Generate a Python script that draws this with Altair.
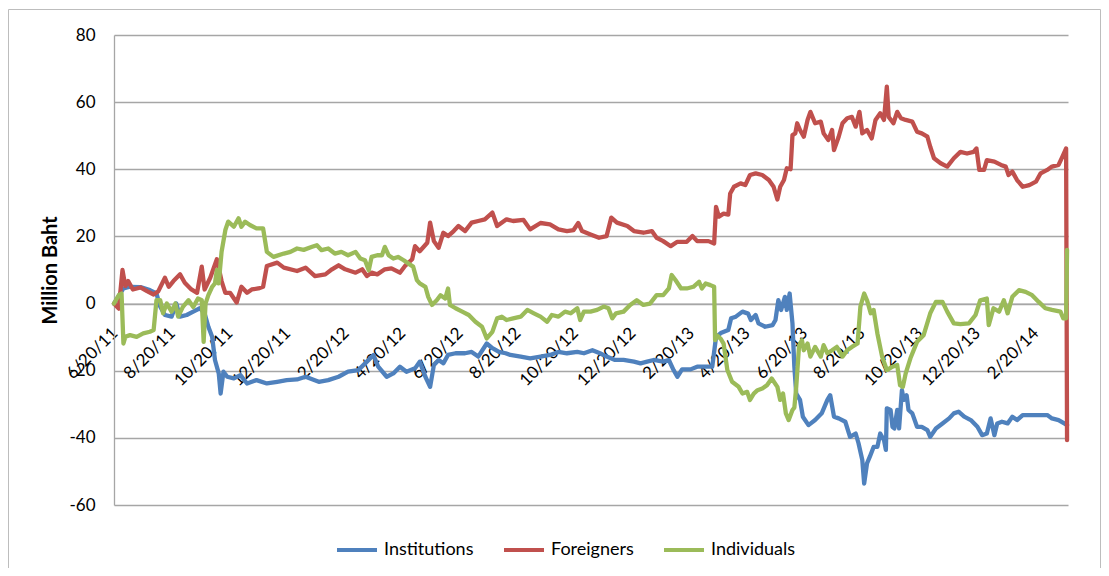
import altair as alt
import pandas as pd

START = "2011-06-20"

series_names = ["Institutions", "Foreigners", "Individuals"]
series_colors = ["#4F81BD", "#C0504D", "#9BBB59"]

y_ticks = [-60, -40, -20, 0, 20, 40, 60, 80]
x_tick_months = [(2011, 6), (2011, 8), (2011, 10), (2011, 12), (2012, 2), (2012, 4),
                 (2012, 6), (2012, 8), (2012, 10), (2012, 12), (2013, 2), (2013, 4),
                 (2013, 6), (2013, 8), (2013, 10), (2013, 12), (2014, 2)]

# days since 2011-06-20 and values (million baht)
inst_days = [0, 10, 17, 28, 38, 45, 49, 54, 61, 66, 70, 77, 84, 91, 96, 100, 104, 107, 111, 113,
             116, 120, 127, 134, 141, 151, 162, 173, 183, 194, 203, 217, 227, 238, 248, 259, 268, 275, 280, 289,
             296, 303, 310, 319, 324, 330, 335, 339, 344, 349, 354, 362, 372, 379, 386, 395, 401, 408, 415, 420,
             431, 441, 452, 462, 471, 480, 491, 498, 507, 515, 522, 531, 540, 551, 558, 565, 572, 582, 588, 593,
             597, 602, 611, 618, 627, 634, 638, 643, 651, 654, 659, 666, 672, 675, 680, 683, 690, 698, 701, 704,
             707, 711, 713, 716, 719, 721, 723, 727, 730, 736, 743, 750, 756, 759, 763, 768, 775, 780, 786, 789,
             793, 795, 798, 801, 805, 809, 812, 816, 818, 819, 823, 825, 827, 830, 832, 835, 837, 840, 842, 846,
             851, 856, 862, 865, 871, 878, 885, 890, 895, 901, 908, 915, 920, 925, 929, 933, 936, 941, 947, 952,
             957, 963, 970, 980, 989, 994, 1001, 1007, 1010]
inst_vals = [0, 4.5, 5, 4.9, 4, 3, -0.9, -3.4, -3.9, 0, -3.9, -3.4, -2.4, -1.4, -2.9, -6.9, -9.9, -16.8, -20.8, -26.8,
             -20.3, -21.8, -22.3, -21.3, -23.8, -22.8, -23.8, -23.3, -22.8, -22.6, -21.8, -23.3, -22.8, -21.8, -20.3, -19.8, -17.3, -15.3, -18.8, -21.8,
             -20.8, -18.8, -20.3, -19.3, -17.3, -21.8, -24.8, -18.3, -16.8, -17.8, -15.3, -14.8, -14.8, -14.4, -15.8, -11.9, -13.3, -14.4, -14.8, -15.3,
             -15.8, -16.3, -15.8, -15.3, -14.4, -14.8, -14.4, -14.8, -13.9, -14.8, -15.8, -16.8, -16.8, -17.3, -17.8, -17.3, -16.8, -17.3, -16.8, -19.8,
             -21.8, -19.6, -19.6, -18.8, -18.8, -18.8, -10, -8.8, -7.9, -4.4, -3.9, -2.4, -3, -4.9, -3.4, -5.9, -6.9, -6.4, -4.9, 1,
             -1.9, 2, -1.9, 3, -5.9, -18.8, -26.8, -28.7, -33.7, -36.2, -34.7, -32.7, -28.7, -27.3, -33.7, -34.2, -35.2, -39.7, -38.7, -41.6,
             -46.6, -53.6, -47.6, -45.6, -42.7, -42.7, -38.7, -40.7, -43.6, -31.2, -31.7, -36.7, -37.2, -31.7, -37.2, -25.8, -28.7, -27.3, -31.7, -32.7,
             -36.7, -36.7, -37.7, -39.7, -37.2, -35.7, -34.2, -32.7, -32.2, -33.7, -34.7, -36.7, -39.2, -38.7, -34.2, -39.2, -35.7, -35.2, -35.7, -33.7,
             -34.7, -33.2, -33.2, -33.2, -33.2, -34.2, -34.7, -35.7, -36.2]

forn_days = [0, 5, 9, 12, 15, 20, 28, 35, 42, 47, 54, 58, 63, 70, 75, 82, 88, 93, 96, 102,
             109, 114, 118, 123, 130, 135, 141, 146, 153, 158, 162, 173, 180, 194, 203, 213, 224, 231, 238, 245,
             256, 263, 268, 273, 279, 287, 294, 303, 309, 316, 319, 324, 332, 335, 339, 344, 349, 354, 360, 365,
             372, 379, 386, 393, 401, 406, 416, 423, 434, 441, 452, 462, 471, 480, 487, 492, 496, 505, 514, 522,
             527, 533, 544, 551, 561, 570, 575, 582, 590, 597, 607, 613, 618, 623, 630, 636, 638, 641, 646, 651,
             653, 657, 664, 669, 674, 680, 687, 694, 699, 703, 706, 710, 713, 717, 719, 722, 724, 727, 731, 735,
             738, 743, 749, 752, 757, 761, 763, 768, 772, 777, 782, 786, 790, 793, 798, 803, 807, 812, 816, 819,
             821, 826, 830, 834, 839, 846, 851, 856, 862, 865, 869, 876, 883, 890, 897, 904, 911, 914, 917, 922,
             925, 933, 940, 945, 948, 952, 957, 963, 970, 977, 982, 989, 994, 1001, 1005, 1009, 1010]
forn_vals = [0, -1.5, 10, 5.2, 6.7, 4.2, 4.8, 3.7, 2.7, 3.7, 7.7, 5, 6.7, 8.7, 6.2, 4.2, 3.2, 11, 4.2, 7.7,
             13.2, 6.7, 3.2, 3.2, 0.3, 5, 3.2, 4.2, 4.5, 5, 11.2, 12.2, 10.7, 9.7, 10.7, 8.2, 8.7, 10.2, 11.4, 10.2,
             9.2, 10.2, 8.2, 9.2, 8.7, 10.2, 10.5, 9.2, 11.4, 13.2, 17.1, 15.6, 18.1, 24.1, 18.6, 16.6, 21.1, 20.1, 21.6, 23.1,
             21.6, 24.1, 24.6, 25.1, 27.1, 23.1, 25.1, 24.6, 24.9, 22.1, 24, 23.6, 22.1, 21.6, 21.9, 24, 21.6, 20.6, 19.6, 20.1,
             25.6, 24.1, 23.1, 21.6, 21.1, 21.6, 19.6, 18.6, 17.1, 18.4, 18.4, 20.1, 18.6, 18.6, 18.6, 17.9, 28.8, 25.9, 26.8, 26.5,
             32.8, 34.8, 35.8, 35.3, 38.3, 38.8, 38.3, 36.8, 34.8, 31, 34.8, 36.8, 40.3, 40, 50.2, 50.7, 53.7, 51.7, 49.7, 54.7,
             57.1, 53.7, 54.2, 50.7, 48.7, 51.7, 45.7, 49.7, 53.7, 55.2, 55.6, 52.7, 57.1, 50.7, 51.7, 49.2, 54.7, 56.7, 54.7, 64.6,
             55.6, 53.7, 57.1, 55.2, 54.7, 54.2, 51.2, 50.7, 49.7, 46.7, 43.3, 41.8, 40.8, 43.3, 45.2, 44.7, 45.2, 46.2, 39.8, 39.8,
             42.7, 42.3, 41.3, 40.8, 38.3, 39.3, 36.8, 34.8, 35.3, 36.3, 38.8, 39.8, 40.8, 41.3, 43.7, 46.2, -40.7]

indv_days = [0, 5, 8, 10, 12, 17, 24, 31, 38, 42, 45, 49, 52, 56, 61, 65, 68, 73, 79, 84,
             89, 93, 95, 97, 100, 104, 107, 109, 111, 114, 118, 121, 127, 132, 135, 139, 144, 151, 158, 162,
             169, 180, 187, 194, 201, 210, 215, 220, 227, 234, 241, 248, 256, 261, 266, 270, 273, 279, 284, 287,
             291, 296, 301, 307, 312, 317, 321, 324, 330, 333, 337, 342, 346, 351, 354, 356, 362, 369, 376, 383,
             390, 395, 401, 406, 411, 416, 423, 431, 438, 445, 452, 459, 464, 471, 478, 484, 491, 494, 498, 505,
             512, 519, 524, 528, 532, 540, 547, 554, 561, 568, 575, 582, 588, 591, 595, 601, 607, 614, 620, 623,
             627, 632, 636, 637, 639, 643, 646, 650, 655, 662, 666, 671, 674, 678, 682, 687, 692, 697, 703, 706,
             709, 712, 715, 719, 721, 723, 726, 729, 731, 735, 738, 743, 749, 752, 756, 761, 766, 772, 777, 782,
             788, 791, 795, 798, 802, 805, 809, 814, 819, 825, 830, 833, 836, 839, 844, 851, 858, 865, 871, 878,
             883, 890, 897, 906, 913, 918, 925, 927, 932, 938, 943, 947, 952, 959, 966, 973, 980, 987, 994, 1003,
             1006, 1009, 1010]
indv_vals = [0, 2.5, 3, -11.9, -9.9, -9.4, -9.9, -8.9, -8.4, -7.9, 1, 1, -2.9, 0, -2.4, 0, -3.9, -1, 1, -1,
             1.5, 1, -11.4, 0, 2.5, 5, 6, 10, 6, 15.4, 21.9, 24.4, 22.9, 25.4, 22.9, 24.4, 23.4, 22.4, 22.4, 15.4,
             13.9, 14.9, 15.4, 16.4, 16, 16.9, 17.4, 15.9, 16.4, 14.9, 15.4, 14.4, 15.4, 13.4, 12.9, 9.9, 13.9, 14.4, 14.4, 16.9,
             14.4, 13.4, 13.9, 12.9, 11.9, 11, 7, 6, 5, 2, -0.4, 1, 2.5, 1.5, 4.5, -0.4, -1.4, -2.4, -3.4, -5.4,
             -6.9, -10.4, -8.4, -4.4, -3.9, -4.9, -4.4, -3.9, -1.9, -2.9, -3.9, -5.4, -3.4, -3.9, -2.4, -2.9, -1.4, -4.9, -2.4, -2.4,
             -1.9, -0.9, -1.4, -4.4, -2.9, -2.4, -0.4, 1, -0.4, 0, 2.5, 2.5, 4.5, 8.5, 7, 4.5, 4.5, 5, 6.5, 4.5,
             6, 5.5, 5, -10.9, -9.5, -10.5, -11.9, -19.8, -23.3, -24.8, -26.8, -26.3, -28.7, -26.8, -25.8, -25.3, -24.3, -22.3, -24.8, -28.7,
             -26.8, -32.7, -34.7, -31.7, -31, -24.8, -12.5, -10.9, -13.9, -11.9, -15.8, -12.9, -15.8, -12.4, -14.8, -13.9, -12.9, -15.8, -13.9, -12.9,
             -11.9, -0.9, 3, 1, -2.9, -1.9, -8.9, -15.8, -19.8, -18.8, -18.3, -24.3, -24.8, -20.8, -16.3, -11.4, -9.4, -2.9, 0.5, 0.5,
             -2.4, -5.9, -6.1, -5.9, -3.4, 1, 1.5, -6.4, -1.4, -2.4, 1, -2.9, 2, 4, 3.5, 2.5, 0.5, -1.4, -1.9, -2.4,
             -4.4, -4.4, 16]


def make_frame(days, vals, name):
    dates = pd.Timestamp(START) + pd.to_timedelta(days, unit="D")
    return pd.DataFrame({"date": dates.strftime("%Y-%m-%d"), "value": vals, "series": name})


frames = [make_frame(inst_days, inst_vals, series_names[0]),
          make_frame(forn_days, forn_vals, series_names[1]),
          make_frame(indv_days, indv_vals, series_names[2])]

W, H = 954, 470
FONT = "Lato"
GRID = "#a6a6a6"
# move the x axis up from the bottom edge to the zero line
zero_offset = -(H - H * 80 / 140)

x_enc = alt.X(
    "date:T",
    scale=alt.Scale(type="utc", domain=[alt.DateTime(year=2011, month=6, date=20, utc=True),
                                        alt.DateTime(year=2014, month=3, date=27, utc=True)]),
    axis=alt.Axis(
        values=[alt.DateTime(year=y, month=m, date=20, utc=True) for y, m in x_tick_months],
        format="%-m/%d/%y", labelAngle=-45, labelAlign="right", labelBaseline="top",
        labelOffset=-5, labelPadding=21, ticks=False, tickSize=0, grid=False,
        domainColor=GRID, domainWidth=1.3, offset=zero_offset, labelOverlap=False,
        labelFlush=False, labelFontSize=17, labelFont=FONT, labelColor="black", title=None),
)
y_enc = alt.Y(
    "value:Q",
    scale=alt.Scale(domain=[-60, 80], nice=False),
    axis=alt.Axis(values=y_ticks, grid=True, gridColor=GRID, gridWidth=1.3, domainColor=GRID,
                  domainWidth=1.3, ticks=False, tickSize=0, labelPadding=19, labelFontSize=17,
                  labelExpr="'' + datum.value",
                  labelFont=FONT, labelColor="black", title="Million Baht", titleFont=FONT,
                  titleFontSize=20, titleFontWeight="bold", titleColor="black", titlePadding=8),
)
color_enc = alt.Color(
    "series:N",
    scale=alt.Scale(domain=series_names, range=series_colors),
    legend=alt.Legend(orient="none", legendX=221, legendY=493, direction="horizontal", title=None,
                      symbolType="stroke", symbolSize=1600, symbolStrokeWidth=4, labelFontSize=18,
                      labelFont=FONT, labelColor="black", columnPadding=22, labelOffset=5),
)

lines = [
    alt.Chart(df).mark_line(strokeWidth=4.3, strokeJoin="round", strokeCap="round").encode(
        x=x_enc, y=y_enc, color=color_enc)
    for df in frames
]

frame = alt.Chart(alt.Data(values=[{"k": 1}])).mark_rect(
    filled=False, stroke="#bdbdbd", strokeWidth=1).encode(
    x=alt.value(-105.5), y=alt.value(-25.5), x2=alt.value(986.5), y2=alt.value(600))

chart = alt.layer(frame, *lines).properties(
    width=W, height=H,
    autosize=alt.AutoSizeParams(type="none"),
    padding={"left": 106, "top": 27, "right": 33, "bottom": 63},
).configure(font=FONT).configure_view(strokeWidth=0)

chart.save("out.html", embed_options={"renderer": "svg", "actions": False})
